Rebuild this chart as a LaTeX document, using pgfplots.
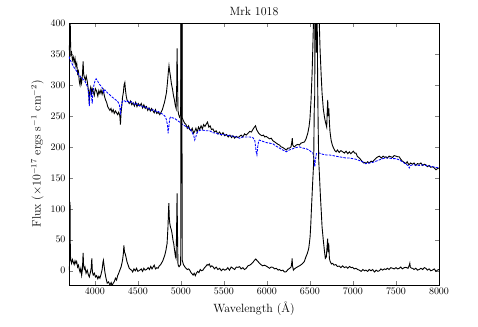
\documentclass[border=0pt]{standalone}
\usepackage{fontspec}
\usepackage{pgfplots}
\pgfplotsset{compat=1.18}
\begin{document}
\begin{tikzpicture}
\begin{axis}[
  scale only axis, width=370bp, height=262bp,
  xmin=3700, xmax=8000, ymin=-23, ymax=400,
  xtick={4000,4500,...,8000}, ytick={0,50,...,400},
  tick align=inside, major tick length=4bp,
  xticklabel style={/pgf/number format/1000 sep={}},
  tick label style={font=\fontsize{10}{12}\selectfont},
  label style={font=\fontsize{12}{15}\selectfont},
  title style={font=\fontsize{12}{15}\selectfont, yshift=-2bp},
  title={Mrk 1018},
  xlabel={Wavelength (\AA)},
  ylabel={Flux ($\times10^{-17}$ ergs s$^{-1}$ cm$^{-2}$)},
  clip=true, axis line style={line width=0.6pt},
]
\addplot[black, line width=0.9pt] coordinates {
(3700,356)(3706,365)(3712,450)(3716,380)(3722,349)(3730,352)(3740,340)(3750,345)(3760,336)(3770,343)(3780,330)(3790,335)(3800,318)(3810,322)(3820,305)(3828,300)(3836,311)(3846,303)(3856,316)(3864,338)(3870,318)(3878,313)(3890,308)(3900,314)(3912,306)(3922,295)(3930,285)(3936,270)(3942,290)(3952,296)(3962,286)(3970,294)(3982,289)(3994,283)(4006,294)(4021,290)(4035,282)(4047,291)(4059,286)(4072,292)(4085,285)(4098,292)(4110,283)(4124,276)(4137,272)(4150,265)(4162,262)(4175,259)(4188,262)(4200,256)(4214,260)(4226,254)(4240,258)(4253,255)(4265,252)(4278,256)(4291,250)(4298,236)(4305,255)(4315,268)(4322,280)(4332,288)(4340,300)(4349,304)(4356,292)(4366,281)(4376,275)(4388,273)(4400,270)(4415,274)(4430,268)(4445,271)(4460,266)(4475,272)(4490,265)(4505,270)(4523,266)(4540,270)(4555,263)(4570,268)(4585,262)(4601,265)(4615,259)(4630,263)(4645,258)(4660,262)(4677,258)(4690,255)(4705,260)(4720,254)(4735,256)(4755,252)(4770,256)(4785,260)(4795,265)(4810,272)(4822,280)(4833,288)(4845,305)(4855,322)(4862,331)(4870,322)(4879,314)(4890,302)(4902,294)(4914,283)(4925,276)(4935,267)(4945,262)(4952,300)(4956,359)(4960,320)(4967,258)(4975,252)(4985,248)(4998,252)(5004,800)(5007,1200)(5010,800)(5016,247)(5030,242)(5045,238)(5060,236)(5075,230)(5090,234)(5103,228)(5118,226)(5132,230)(5148,222)(5161,225)(5175,230)(5190,224)(5205,232)(5219,228)(5235,234)(5250,229)(5265,236)(5280,233)(5296,237)(5310,240)(5325,232)(5340,234)(5356,228)(5373,229)(5390,224)(5410,226)(5430,221)(5450,224)(5470,219)(5490,223)(5510,218)(5530,220)(5550,216)(5570,219)(5590,215)(5605,218)(5625,214)(5645,217)(5665,215)(5683,217)(5700,219)(5720,216)(5740,221)(5760,219)(5780,222)(5800,225)(5820,224)(5837,228)(5850,231)(5868,234)(5880,228)(5892,225)(5905,222)(5920,220)(5940,218)(5960,219)(5975,216)(5992,217)(6010,215)(6030,213)(6050,214)(6069,210)(6090,208)(6110,206)(6130,204)(6146,203)(6165,200)(6185,199)(6205,197)(6224,195)(6245,198)(6262,198)(6280,200)(6290,208)(6295,214)(6300,203)(6310,201)(6320,200)(6340,203)(6360,204)(6378,203)(6395,206)(6415,207)(6436,208)(6455,213)(6475,222)(6490,233)(6500,245)(6513,276)(6525,318)(6533,357)(6540,395)(6548,480)(6556,600)(6563,900)(6570,620)(6580,700)(6590,560)(6600,450)(6610,395)(6618,357)(6630,318)(6641,287)(6655,262)(6668,249)(6680,240)(6695,232)(6702,260)(6707,276)(6712,250)(6720,262)(6726,240)(6733,225)(6746,211)(6760,203)(6775,198)(6790,194)(6804,192)(6820,195)(6840,191)(6860,194)(6881,192)(6900,190)(6920,193)(6940,189)(6958,192)(6975,189)(6990,191)(7005,193)(7020,190)(7035,190)(7050,185)(7065,183)(7080,181)(7093,179)(7110,176)(7125,174)(7140,175)(7151,173)(7170,176)(7190,174)(7210,177)(7229,176)(7250,179)(7270,182)(7290,184)(7306,185)(7330,182)(7350,185)(7370,183)(7383,184)(7400,182)(7420,185)(7440,184)(7460,183)(7480,186)(7500,185)(7520,184)(7538,184)(7555,180)(7575,177)(7595,175)(7615,173)(7630,176)(7650,171)(7670,174)(7693,172)(7710,174)(7730,170)(7750,173)(7770,172)(7790,174)(7810,170)(7830,172)(7847,171)(7865,168)(7885,170)(7905,167)(7924,168)(7945,166)(7965,163)(7982,165)(8000,166)
};
\addplot[blue, line width=0.85pt, dash pattern=on 2.5pt off 1.2pt] coordinates {
(3700,346)(3715,340)(3730,336)(3750,330)(3770,326)(3790,322)(3808,318)(3825,314)(3847,311)(3865,309)(3886,306)(3905,300)(3920,296)(3930,280)(3936,266)(3942,282)(3952,290)(3963,280)(3970,270)(3976,285)(3990,300)(4001,306)(4015,310)(4030,307)(4045,303)(4060,300)(4079,297)(4095,293)(4105,288)(4117,292)(4135,289)(4156,286)(4175,284)(4195,281)(4215,279)(4233,277)(4252,275)(4272,272)(4285,268)(4299,255)(4305,262)(4315,272)(4330,275)(4350,274)(4368,272)(4385,274)(4405,271)(4425,273)(4445,271)(4465,268)(4485,270)(4505,267)(4523,267)(4545,266)(4565,264)(4585,265)(4601,263)(4620,262)(4640,261)(4660,259)(4677,260)(4700,258)(4720,256)(4740,257)(4755,255)(4775,254)(4795,252)(4813,250)(4830,245)(4845,235)(4852,222)(4860,232)(4870,245)(4879,248)(4900,247)(4929,246)(4955,243)(4987,240)(5015,237)(5045,234)(5075,232)(5103,229)(5125,225)(5150,218)(5161,211)(5172,215)(5185,222)(5200,225)(5225,227)(5257,227)(5290,226)(5335,226)(5370,223)(5412,222)(5450,220)(5490,220)(5528,219)(5570,218)(5610,217)(5644,216)(5683,214)(5720,216)(5760,216)(5800,216)(5837,215)(5860,210)(5875,192)(5884,187)(5893,200)(5905,210)(5914,211)(5950,209)(5992,207)(6030,206)(6069,205)(6110,201)(6146,198)(6185,195)(6224,192)(6260,195)(6301,197)(6340,199)(6378,200)(6420,198)(6455,197)(6490,195)(6513,192)(6535,190)(6548,180)(6556,168)(6563,178)(6575,189)(6610,190)(6650,188)(6688,187)(6725,187)(6765,186)(6800,185)(6842,184)(6880,183)(6920,182)(6960,182)(6997,181)(7035,180)(7074,178)(7110,176)(7151,173)(7190,174)(7229,175)(7270,177)(7306,179)(7345,181)(7383,182)(7420,182)(7460,181)(7500,181)(7538,179)(7575,176)(7615,172)(7640,170)(7654,166)(7670,170)(7693,171)(7730,171)(7770,170)(7810,171)(7847,170)(7885,169)(7924,168)(7960,167)(8000,166)
};
\addplot[black, line width=0.9pt] coordinates {
(3700,1)(3706,8)(3712,111)(3716,25)(3722,17)(3730,12)(3740,18)(3750,14)(3760,10)(3770,16)(3780,12)(3789,15)(3800,6)(3810,9)(3820,2)(3828,-2)(3838,4)(3847,-7)(3856,2)(3864,29)(3870,8)(3878,3)(3886,6)(3898,-4)(3912,1)(3924,-6)(3936,-10)(3948,-3)(3958,4)(3965,20)(3972,-2)(3982,-7)(3995,-4)(4008,-10)(4021,-8)(4035,-13)(4047,-9)(4059,-12)(4072,-6)(4085,2)(4095,14)(4100,17)(4108,8)(4117,-2)(4130,-12)(4144,-20)(4160,-18)(4175,-23)(4190,-19)(4200,-24)(4214,-20)(4228,-17)(4240,-12)(4253,-15)(4265,-8)(4278,-4)(4291,1)(4305,6)(4315,12)(4322,17)(4332,28)(4338,41)(4345,30)(4352,28)(4361,23)(4375,14)(4388,9)(4400,4)(4415,2)(4427,1)(4440,-2)(4455,3)(4470,0)(4485,4)(4500,-1)(4523,1)(4540,3)(4555,-1)(4570,4)(4585,1)(4601,2)(4620,5)(4635,2)(4650,7)(4665,3)(4677,6)(4690,9)(4705,3)(4720,5)(4735,4)(4750,8)(4765,10)(4774,12)(4790,16)(4800,20)(4813,25)(4825,32)(4840,44)(4850,70)(4856,95)(4860,109)(4866,85)(4871,77)(4880,70)(4890,66)(4900,58)(4910,48)(4917,44)(4928,32)(4937,23)(4944,20)(4950,60)(4956,125)(4960,70)(4966,12)(4972,8)(4979,6.5)(4998,10)(5004,600)(5007,1000)(5010,500)(5016,17)(5030,10)(5045,6.5)(5060,4)(5075,2)(5090,3)(5103,1)(5118,-3)(5130,-5)(5142,-7)(5155,-4)(5168,-8)(5180,-4)(5195,-1)(5210,-3)(5225,2)(5240,0)(5257,1)(5275,5)(5290,7)(5305,10)(5315,9)(5330,11)(5345,6)(5360,8)(5373,6.5)(5390,3)(5410,6)(5430,2)(5451,4)(5470,0)(5490,3)(5510,1)(5528,2)(5545,5)(5565,1)(5585,6)(5605,4)(5625,2)(5645,6)(5663,5.5)(5683,6.5)(5700,3)(5720,5)(5740,2)(5760,4)(5780,8)(5800,9)(5820,11)(5840,14)(5856,17)(5870,19)(5876,18)(5890,16)(5902,14)(5914,12)(5930,10)(5950,8)(5970,9)(5992,7.6)(6010,6)(6030,4)(6050,6)(6069,5.5)(6090,3)(6110,4)(6130,1)(6146,2)(6165,0)(6185,1)(6205,-2)(6224,-1.6)(6245,2)(6265,4)(6282,6.5)(6290,14)(6293,20)(6298,8)(6308,1)(6320,3)(6340,5)(6359,6.5)(6380,8)(6400,10)(6417,12)(6435,15)(6455,23)(6470,28)(6486,36)(6494,45)(6502,55)(6510,75)(6517,98)(6525,122)(6533,146)(6540,165)(6544,179)(6550,260)(6556,284)(6562,600)(6568,420)(6575,352)(6582,460)(6590,300)(6596,230)(6602,179)(6612,150)(6622,120)(6632,95)(6641,71)(6655,50)(6668,33)(6679,20)(6690,22)(6700,40)(6706,52)(6712,30)(6718,44)(6722,35)(6726,20)(6735,15)(6750,11)(6765,12)(6780,9)(6800,10)(6820,7)(6842,7.6)(6860,5)(6880,8)(6900,5)(6920,6.5)(6940,4)(6960,7)(6980,5)(6997,5.5)(7015,3)(7035,4)(7055,2)(7074,1)(7095,-1)(7115,2)(7135,0)(7151,1)(7170,-1)(7190,2)(7210,0)(7229,2)(7250,-2)(7270,1)(7290,-1)(7306,0)(7325,3)(7345,1)(7365,3)(7383,2)(7400,4)(7420,2)(7440,5)(7460,4)(7480,3)(7500,5)(7520,3)(7538,4)(7555,6)(7575,3)(7595,5)(7615,5.5)(7640,4)(7655,9)(7661,12)(7666,6)(7680,4)(7693,4)(7710,2)(7730,4)(7750,1)(7770,2)(7790,4)(7810,2)(7830,5)(7847,4)(7865,1)(7885,3)(7905,0)(7924,1)(7945,3)(7965,-1)(7982,1)(8000,2)
};
\end{axis}
\path[use as bounding box] (-69bp,-42bp) rectangle (409bp,285bp);
\end{tikzpicture}
\end{document}
